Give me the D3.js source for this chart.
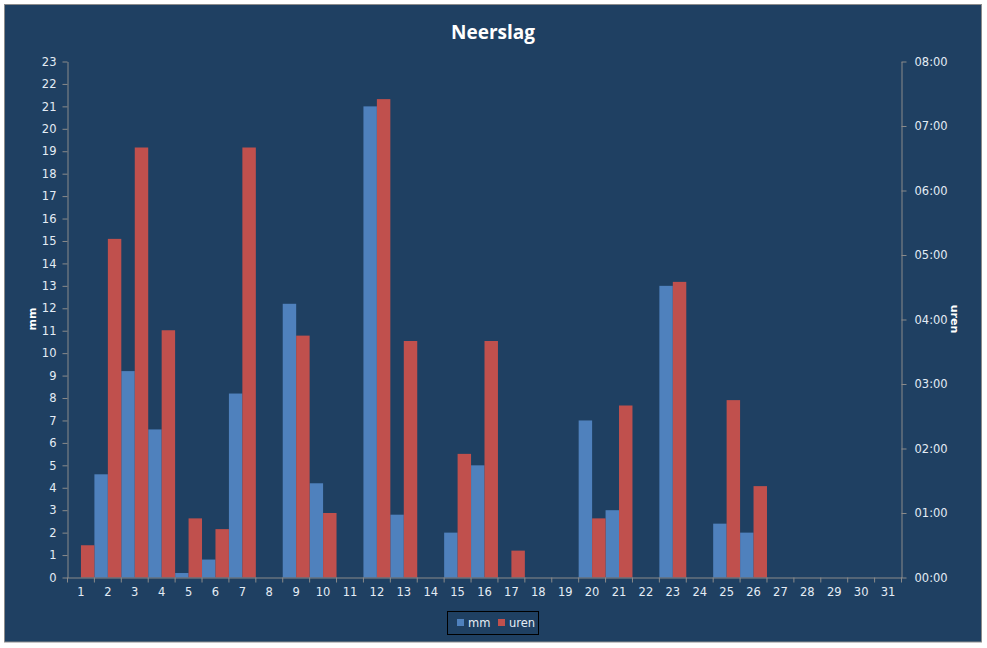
<!DOCTYPE html>
<html>
<head>
<meta charset="utf-8">
<script src="https://cdn.jsdelivr.net/npm/d3@7"></script>
<style>
  body { margin: 0; background: #fff; }
  svg text { font-family: "DejaVu Sans", sans-serif; }
</style>
</head>
<body>
<svg id="chart" width="987" height="648"></svg>
<script>
// days of the month
var days = d3.range(1, 32).map(String);

// rainfall in mm per day
var mm = [0, 4.6, 9.2, 6.6, 0.2, 0.8, 8.2, 0, 12.2, 4.2,
          0, 21.0, 2.8, 0, 2.0, 5.0, 0, 0, 0, 7.0,
          3.0, 0, 13.0, 0, 2.4, 2.0, 0, 0, 0, 0, 0];

// hours of rain per day (h:mm)
var uren = ["0:30", "5:15", "6:40", "3:50", "0:55", "0:45", "6:40", "0:00", "3:45", "1:00",
            "0:00", "7:25", "3:40", "0:00", "1:55", "3:40", "0:25", "0:00", "0:00", "0:55",
            "2:40", "0:00", "4:35", "0:00", "2:45", "1:25", "0:00", "0:00", "0:00", "0:00", "0:00"];

var mmTicks = d3.range(0, 24);
var urenTicks = ["00:00", "01:00", "02:00", "03:00", "04:00", "05:00", "06:00", "07:00", "08:00"];

var svg = d3.select("#chart");
var bg = "#1F4062", axisCol = "#8a8a8a", textCol = "#e4ecf5";

// chart background with border
svg.append("rect")
  .attr("x", 4.5).attr("y", 4.5)
  .attr("width", 977).attr("height", 637.5)
  .attr("fill", bg)
  .attr("stroke", "#8c8c8c");

function toMin(s) {
  var p = s.split(":");
  return (+p[0]) * 60 + (+p[1]);
}

var plotL = 67.5, plotR = 901.5, plotT = 61.5, plotB = 577.5;

//scales
var x = d3.scaleBand().domain(days).range([plotL, plotR]).padding(0);
var xs = d3.scaleBand().domain(["mm", "uren"]).range([0, x.bandwidth()]);
var yL = d3.scaleLinear().domain([0, 23]).range([plotB, plotT]);
var yR = d3.scaleLinear().domain([0, 480]).range([plotB, plotT]);

//bars
var g = svg.append("g");
g.selectAll(".mm").data(days).enter().append("rect")
  .attr("x", (d, i) => x(d) + xs("mm"))
  .attr("width", xs.bandwidth())
  .attr("y", (d, i) => yL(mm[i]))
  .attr("height", (d, i) => yL(0) - yL(mm[i]))
  .attr("fill", "#4F81BD");

g.selectAll(".uren").data(days).enter().append("rect")
  .attr("x", (d, i) => x(d) + xs("uren"))
  .attr("width", xs.bandwidth())
  .attr("y", (d, i) => yR(toMin(uren[i])))
  .attr("height", (d, i) => yR(0) - yR(toMin(uren[i])))
  .attr("fill", "#C0504D");

//axes
var axL = svg.append("g")
  .attr("transform", "translate(" + plotL + ",0)")
  .call(d3.axisLeft(yL).tickValues(mmTicks).tickSize(5).tickSizeOuter(0).tickPadding(6));

var axR = svg.append("g")
  .attr("transform", "translate(" + plotR + ",0)")
  .call(d3.axisRight(yR).tickValues(d3.range(0, 481, 60)).tickSize(5).tickSizeOuter(0).tickPadding(8)
    .tickFormat((d, i) => urenTicks[i]));

var axB = svg.append("g")
  .attr("transform", "translate(0," + plotB + ")")
  .call(d3.axisBottom(x).tickSize(0).tickPadding(10));

// tick marks between categories
svg.append("g").selectAll("line")
  .data(d3.range(0, 32))
  .enter().append("line")
  .attr("x1", d => plotL + d * x.step())
  .attr("x2", d => plotL + d * x.step())
  .attr("y1", plotB)
  .attr("y2", plotB + 5)
  .attr("stroke", axisCol);

[axL, axR, axB].forEach(function(a) {
  a.selectAll("path, line").attr("stroke", axisCol);
  a.selectAll("text").attr("fill", textCol).style("font-size", "11.5px");
});

//title and axis labels
svg.append("text")
  .attr("x", 493).attr("y", 39)
  .attr("text-anchor", "middle")
  .attr("fill", "#fff")
  .style("font-family", "'Open Sans', sans-serif")
  .style("font-size", "19px")
  .style("font-weight", 700)
  .text("Neerslag");

svg.append("text")
  .attr("transform", "translate(36,319) rotate(-90)")
  .attr("text-anchor", "middle")
  .attr("fill", "#fff")
  .style("font-size", "11px")
  .style("font-weight", 700)
  .text("mm");

svg.append("text")
  .attr("transform", "translate(951,319) rotate(90)")
  .attr("text-anchor", "middle")
  .attr("fill", "#fff")
  .style("font-size", "11px")
  .style("font-weight", 700)
  .text("uren");

//legend
var lg = svg.append("g").attr("transform", "translate(447,611)");
lg.append("rect")
  .attr("x", 0.5).attr("y", 0.5)
  .attr("width", 91).attr("height", 23)
  .attr("fill", "none")
  .attr("stroke", "#000");

var legendItems = [["mm", "#4F81BD", 10], ["uren", "#C0504D", 51]];
legendItems.forEach(function(it) {
  lg.append("rect")
    .attr("x", it[2]).attr("y", 8)
    .attr("width", 7).attr("height", 7)
    .attr("fill", it[1]);
  lg.append("text")
    .attr("x", it[2] + 11).attr("y", 16)
    .attr("fill", textCol)
    .style("font-size", "11.5px")
    .text(it[0]);
});
</script>
</body>
</html>
